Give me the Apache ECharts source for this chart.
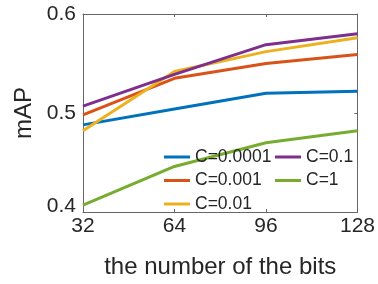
<!DOCTYPE html>
<html>
<head>
<meta charset="utf-8">
<script src="https://cdn.jsdelivr.net/npm/echarts@6/dist/echarts.min.js"></script>
<style>html,body{margin:0;padding:0;background:#fff;}#c{width:378px;height:284px;}</style>
</head>
<body>
<div id="c"></div>
<script>
var bits = [32, 64, 96, 128];
var xTicks = [32, 64, 96, 128];
var yTicks = [0.4, 0.5, 0.6];
var names = ['C=0.0001', 'C=0.001', 'C=0.01', 'C=0.1', 'C=1'];
var c00001 = [0.488, 0.504, 0.520, 0.522];
var c0001 = [0.498, 0.535, 0.550, 0.559];
var c001 = [0.482, 0.542, 0.562, 0.576];
var c01 = [0.507, 0.539, 0.569, 0.580];
var c1 = [0.407, 0.446, 0.470, 0.482];
var colors = ['#0072BD', '#D95319', '#EDB120', '#7E2F8E', '#77AC30'];

var values = [c00001, c0001, c001, c01, c1];
var FONT = 'Liberation Sans, Arial, Helvetica, sans-serif';
var axisCol = '#666666';
var txtCol = '#262626';

var series = names.map(function (n, i) {
  return {
    name: n, type: 'line', xAxisIndex: 0, yAxisIndex: 0,
    data: bits.map(function (b, j) { return [b, values[i][j]]; }),
    symbol: 'none', lineStyle: { width: 3, color: colors[i] }, itemStyle: { color: colors[i] },
    animation: false
  };
});

var legendCommon = {
  orient: 'vertical', icon: 'rect', itemWidth: 26, itemHeight: 3, itemGap: 5.5,
  textStyle: { fontFamily: FONT, fontSize: 17.5, color: txtCol, lineHeight: 18 },
  padding: 0, selectedMode: false
};

var chart = echarts.init(document.getElementById('c'), null, { renderer: 'canvas' });
chart.setOption({
  animation: false,
  backgroundColor: '#fff',
  color: colors,
  grid: { left: 83, right: 19, top: 14, bottom: 67 },
  legend: [
    Object.assign({ left: 164, top: 148, data: [names[0], names[1], names[2]] }, legendCommon),
    Object.assign({ left: 275, top: 148, data: [names[3], names[4]] }, legendCommon)
  ],
  xAxis: [{
    type: 'value', min: xTicks[0], max: xTicks[xTicks.length - 1], interval: 32,
    name: 'the number of the bits', nameLocation: 'middle', nameGap: 43,
    nameTextStyle: { fontFamily: FONT, fontSize: 24, color: txtCol },
    axisLine: { show: true, lineStyle: { color: axisCol, width: 1 } },
    axisTick: { show: true, inside: true, length: 3, lineStyle: { color: axisCol } },
    axisLabel: { fontFamily: FONT, fontSize: 21, color: txtCol, margin: 4 },
    splitLine: { show: false }
  }, {
    type: 'value', position: 'top', min: xTicks[0], max: xTicks[xTicks.length - 1], interval: 32,
    axisLine: { show: true, lineStyle: { color: axisCol, width: 1 } },
    axisTick: { show: true, inside: true, length: 3, lineStyle: { color: axisCol } },
    axisLabel: { show: false }, splitLine: { show: false }
  }],
  yAxis: [{
    type: 'value', min: yTicks[0], max: yTicks[yTicks.length - 1], interval: 0.1,
    name: 'mAP', nameLocation: 'middle', nameGap: 35,
    nameTextStyle: { fontFamily: FONT, fontSize: 24, color: txtCol },
    axisLine: { show: true, lineStyle: { color: axisCol, width: 1 } },
    axisTick: { show: true, inside: true, length: 3, lineStyle: { color: axisCol } },
    axisLabel: {
      fontFamily: FONT, fontSize: 21, color: txtCol, margin: 7,
      formatter: function (v) {
        var s = v.toFixed(1);
        return Math.abs(v - yTicks[0]) < 1e-9 ? '{low|' + s + '}' : s;
      },
      rich: { low: { fontFamily: FONT, fontSize: 21, color: txtCol, padding: [0, 0, 12, 0] } }
    },
    splitLine: { show: false }
  }, {
    type: 'value', position: 'right', min: yTicks[0], max: yTicks[yTicks.length - 1], interval: 0.1,
    axisLine: { show: true, lineStyle: { color: axisCol, width: 1 } },
    axisTick: { show: true, inside: true, length: 3, lineStyle: { color: axisCol } },
    axisLabel: { show: false }, splitLine: { show: false }
  }],
  series: series
});
</script>
</body>
</html>
